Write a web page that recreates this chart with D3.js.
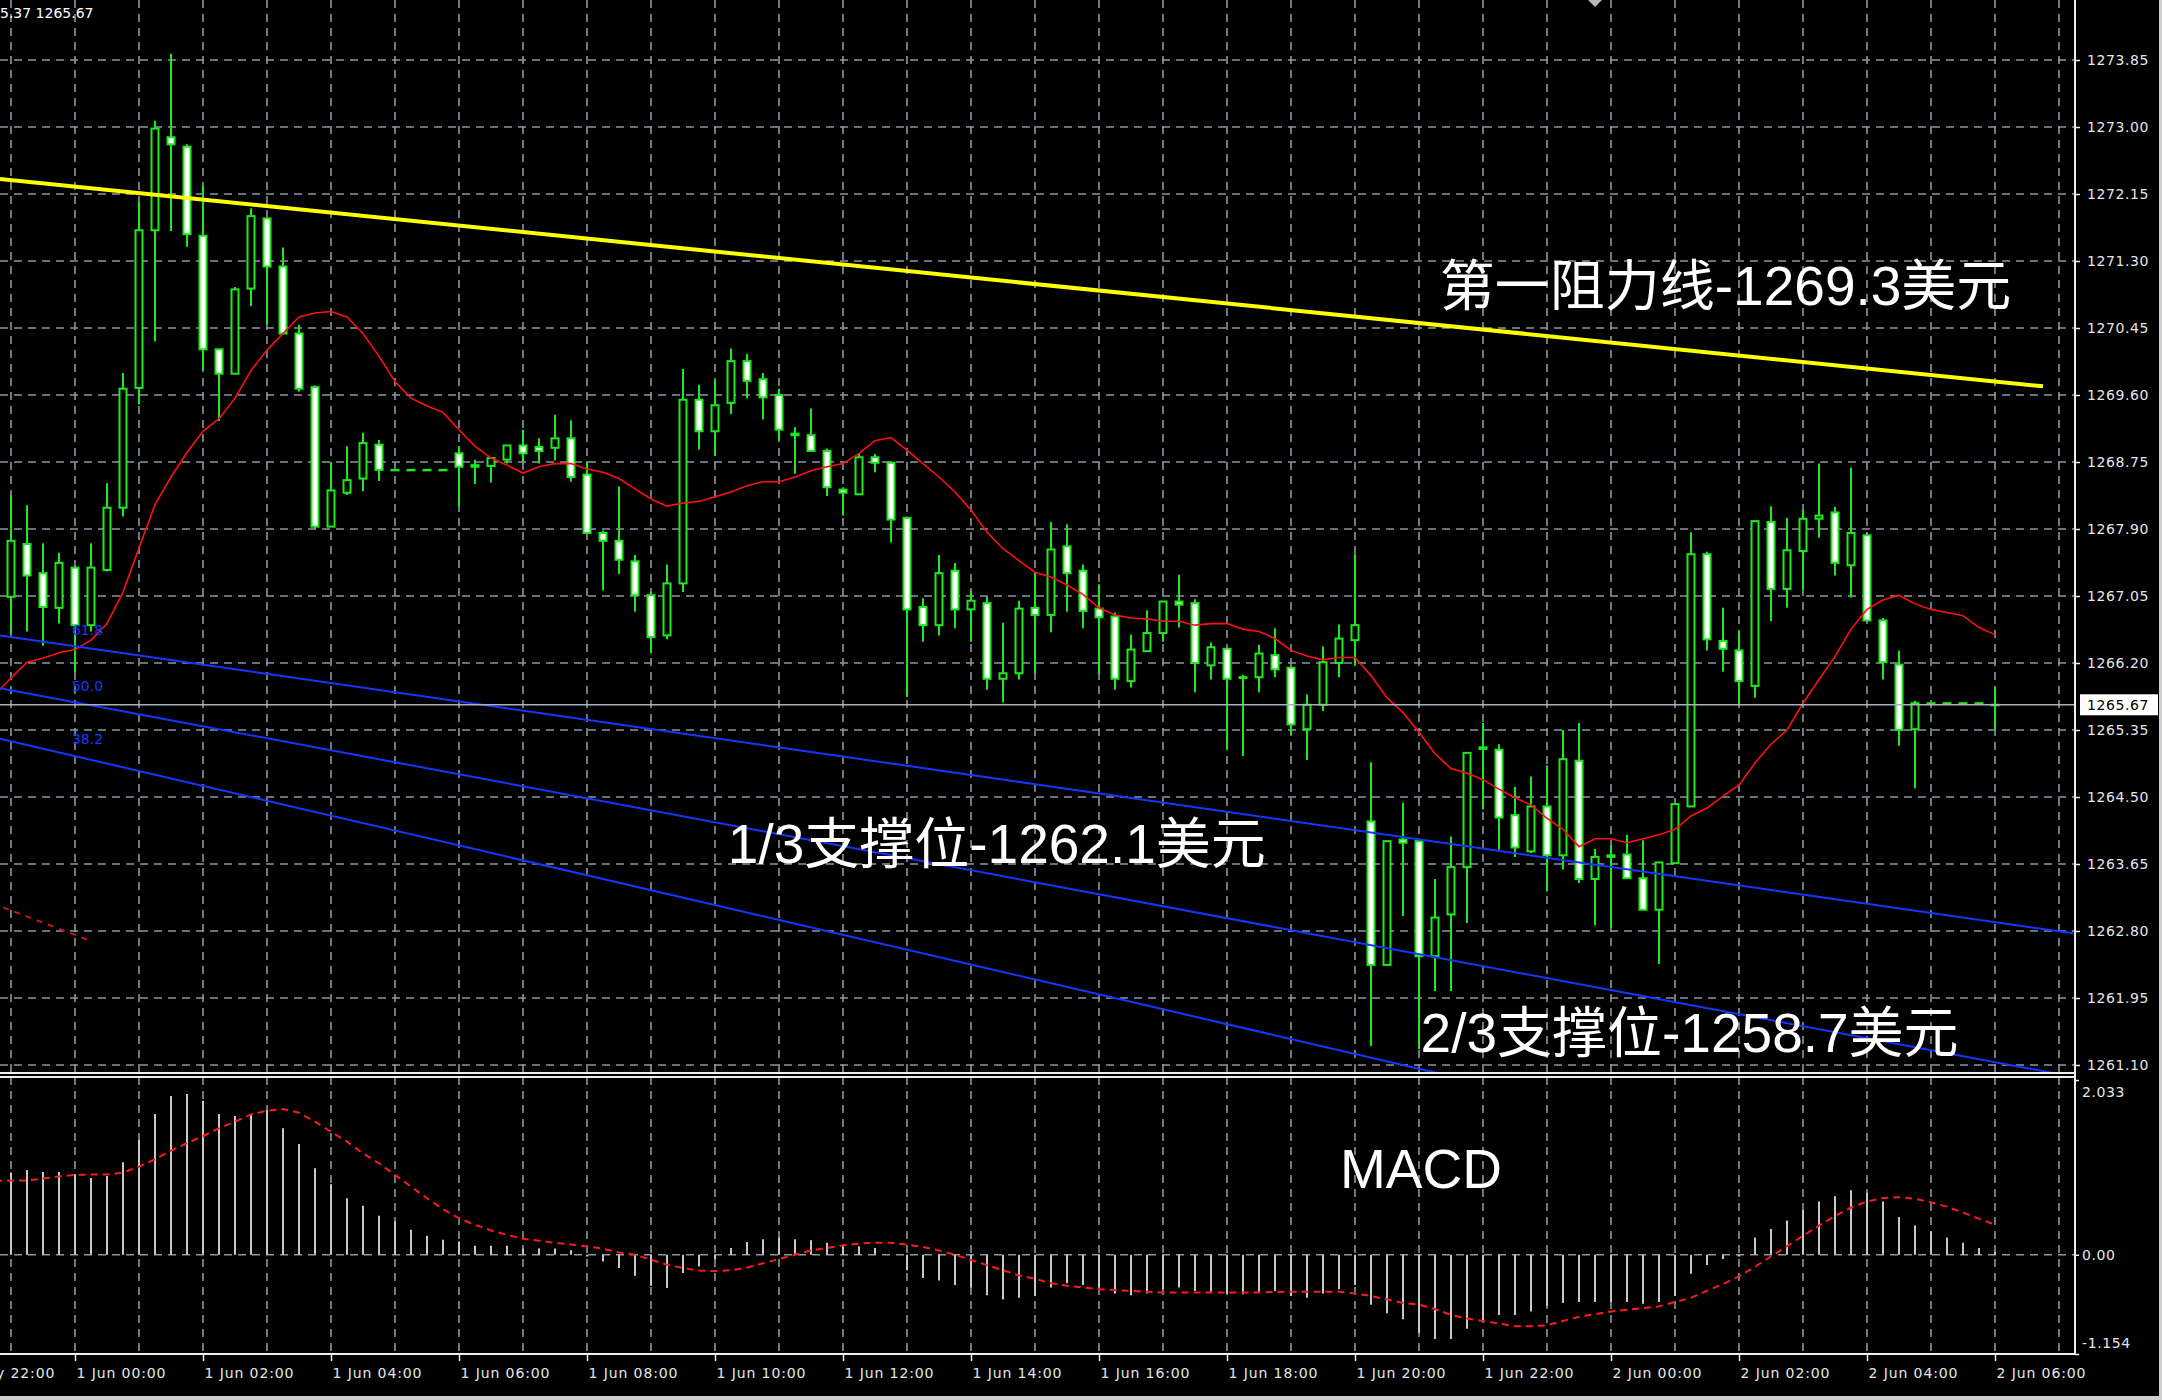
<!DOCTYPE html>
<html><head><meta charset="utf-8">
<script src="https://cdn.jsdelivr.net/npm/d3@7"></script>
<style>
html,body{margin:0;padding:0;background:#000;overflow:hidden}
svg{display:block}
</style></head><body>
<svg id="c" width="2162" height="1400"></svg>
<script>
// ---------- DATA (M15 bars, bar 0 = 1 Jun 00:00) ----------
const barIndex = d3.range(-5, 121);
const opens = [
1267.05,1267.04,1267.71,1267.34,1266.90,1267.41,1266.68,1267.38,1268.17,1269.69,
1271.69,1272.87,1272.75,1271.62,1270.18,1269.87,1270.95,1271.84,1271.23,1270.38,
1269.70,1267.93,1268.36,1268.54,1268.97,1268.65,1268.65,1268.65,1268.65,1268.86,
1268.71,1268.70,1268.78,1268.96,1268.94,1268.93,1269.05,1268.59,1267.85,1267.75,
1267.49,1267.06,1266.55,1267.21,1269.54,1269.14,1269.50,1270.03,1269.80,1269.60,
1269.11,1269.09,1268.89,1268.40,1268.34,1268.81,1268.74,1268.04,1266.91,1266.68,
1267.37,1266.88,1266.96,1266.00,1266.07,1266.90,1266.81,1267.68,1267.37,1266.89,
1266.79,1265.97,1266.35,1266.58,1266.98,1266.96,1266.17,1266.38,1266.02,1266.02,
1266.30,1266.14,1265.36,1265.67,1266.20,1266.49,1264.19,1262.37,1263.96,1263.94,
1262.48,1263.01,1263.61,1265.13,1265.10,1264.27,1263.81,1264.38,1263.76,1264.96,
1263.46,1263.76,1263.77,1263.47,1263.07,1263.66,1264.38,1267.58,1266.48,1266.36,
1265.91,1267.99,1267.14,1267.62,1268.03,1268.11,1267.44,1267.82,1266.74,1266.18,
1265.36,1265.69,1265.69,1265.69,1265.69,1265.67];
const highs = [
1268.28,1268.33,1268.20,1267.72,1267.60,1267.44,1267.72,1268.48,1269.88,1272.05,
1273.08,1273.93,1272.78,1272.25,1270.18,1270.97,1271.97,1271.84,1271.47,1270.49,
1269.72,1268.75,1268.95,1269.12,1269.03,1268.65,1268.65,1268.65,1268.65,1268.95,
1268.78,1268.80,1268.96,1269.16,1269.05,1269.35,1269.28,1268.76,1267.88,1268.44,
1267.57,1267.10,1267.45,1269.93,1269.73,1269.79,1270.19,1270.12,1269.88,1269.68,
1269.19,1269.43,1268.92,1268.43,1268.85,1268.85,1268.76,1268.06,1267.02,1267.57,
1267.47,1267.12,1267.04,1266.71,1266.99,1267.35,1267.99,1267.96,1267.45,1267.20,
1266.84,1266.56,1266.87,1266.98,1267.32,1267.01,1266.46,1266.39,1266.05,1266.43,
1266.64,1266.16,1265.80,1266.41,1266.69,1267.58,1264.94,1263.94,1264.43,1263.94,
1263.46,1264.00,1265.06,1265.44,1265.17,1264.63,1264.76,1264.90,1265.35,1265.44,
1263.84,1263.89,1264.02,1263.95,1263.67,1264.41,1267.86,1267.61,1266.90,1266.61,
1268.00,1268.19,1268.04,1268.14,1268.73,1268.18,1268.68,1267.85,1266.77,1266.36,
1265.72,1265.69,1265.69,1265.69,1265.69,1265.90];
const lows = [
1266.57,1266.57,1266.60,1266.42,1266.70,1266.08,1266.60,1267.36,1268.06,1269.48,
1270.28,1271.68,1271.48,1269.91,1269.27,1269.87,1270.73,1270.49,1270.37,1269.64,
1267.90,1267.93,1268.33,1268.38,1268.51,1268.65,1268.65,1268.65,1268.65,1268.18,
1268.47,1268.49,1268.73,1268.75,1268.73,1268.77,1268.50,1267.84,1267.12,1267.33,
1266.85,1266.32,1266.50,1267.10,1268.91,1268.83,1269.36,1269.56,1269.29,1269.02,
1268.60,1268.89,1268.32,1268.07,1268.33,1268.62,1267.73,1265.77,1266.47,1266.55,
1266.64,1266.47,1265.86,1265.70,1265.99,1266.07,1266.59,1266.85,1266.64,1266.06,
1265.86,1265.89,1266.35,1266.47,1266.65,1265.83,1265.99,1265.10,1265.02,1265.83,
1266.02,1265.30,1264.97,1265.59,1266.02,1266.17,1261.34,1262.37,1262.99,1261.30,
1262.04,1262.04,1262.90,1264.34,1263.83,1263.74,1263.79,1263.30,1263.58,1263.41,
1262.87,1262.84,1263.47,1263.07,1262.38,1263.66,1264.38,1266.36,1266.09,1265.67,
1265.76,1266.73,1266.90,1267.13,1267.79,1267.31,1267.03,1266.73,1265.99,1265.15,
1264.61,1265.69,1265.69,1265.69,1265.69,1265.36];
const closes = [
1267.70,1267.75,1267.31,1266.91,1267.47,1266.68,1267.41,1268.17,1269.68,1271.69,
1272.98,1272.78,1271.64,1270.18,1269.87,1270.94,1271.87,1271.23,1270.38,1269.68,
1267.93,1268.39,1268.52,1268.99,1268.65,1268.65,1268.65,1268.65,1268.65,1268.69,
1268.69,1268.80,1268.96,1268.86,1268.89,1269.05,1268.56,1267.85,1267.75,1267.51,
1267.06,1266.53,1267.21,1269.54,1269.14,1269.47,1270.03,1269.78,1269.57,1269.16,
1269.09,1268.89,1268.43,1268.36,1268.81,1268.74,1268.02,1266.88,1266.68,1267.34,
1266.88,1266.99,1266.00,1266.07,1266.89,1266.81,1267.64,1267.34,1266.86,1266.78,
1266.00,1266.37,1266.58,1266.98,1266.94,1266.20,1266.40,1266.00,1266.01,1266.32,
1266.12,1265.42,1265.67,1266.21,1266.51,1266.68,1262.37,1263.94,1263.92,1262.48,
1262.97,1263.61,1265.06,1265.11,1264.24,1263.86,1264.38,1263.76,1264.98,1263.46,
1263.74,1263.74,1263.47,1263.07,1263.67,1264.41,1267.58,1266.50,1266.38,1265.97,
1268.00,1267.14,1267.63,1268.03,1268.07,1267.47,1267.85,1266.74,1266.21,1265.35,
1265.69,1265.69,1265.69,1265.69,1265.69,1265.67];
const maValues = [
1265.80,1266.01,1266.21,1266.26,1266.33,1266.37,1266.49,1266.70,1267.10,1267.66,
1268.21,1268.56,1268.87,1269.14,1269.30,1269.56,1269.91,1270.17,1270.38,1270.59,
1270.64,1270.66,1270.59,1270.38,1270.09,1269.77,1269.56,1269.46,1269.38,1269.16,
1268.95,1268.80,1268.71,1268.61,1268.69,1268.73,1268.73,1268.66,1268.62,1268.54,
1268.41,1268.28,1268.19,1268.23,1268.25,1268.31,1268.37,1268.45,1268.50,1268.50,
1268.56,1268.64,1268.69,1268.73,1268.86,1269.02,1269.06,1268.90,1268.73,1268.56,
1268.37,1268.14,1267.86,1267.65,1267.50,1267.35,1267.29,1267.19,1267.07,1266.90,
1266.81,1266.77,1266.76,1266.73,1266.73,1266.68,1266.70,1266.70,1266.63,1266.60,
1266.51,1266.36,1266.29,1266.24,1266.27,1266.27,1266.04,1265.76,1265.57,1265.32,
1265.05,1264.86,1264.80,1264.72,1264.60,1264.49,1264.40,1264.23,1264.09,1263.87,
1263.97,1263.97,1263.92,1263.97,1264.02,1264.09,1264.26,1264.36,1264.51,1264.65,
1264.93,1265.17,1265.35,1265.69,1265.99,1266.28,1266.63,1266.88,1267.00,1267.06,
1266.95,1266.88,1266.84,1266.80,1266.65,1266.56];
const macdHist = [
0.95,0.956,0.987,0.964,0.964,0.937,0.894,0.917,1.076,1.336,
1.637,1.846,1.870,1.793,1.637,1.614,1.637,1.684,1.471,1.289,
1.006,0.821,0.658,0.569,0.453,0.387,0.290,0.221,0.174,0.155,
0.105,0.105,0.105,0.074,0.074,0.074,0.054,-0.02,-0.077,-0.155,
-0.244,-0.360,-0.387,-0.213,-0.136,-0.05,0.08,0.15,0.18,0.20,
0.18,0.17,0.14,0.10,0.10,0.08,0.0,-0.18,-0.27,-0.30,
-0.35,-0.38,-0.47,-0.52,-0.50,-0.48,-0.38,-0.33,-0.35,-0.38,
-0.45,-0.47,-0.45,-0.40,-0.38,-0.42,-0.43,-0.45,-0.46,-0.43,
-0.42,-0.48,-0.50,-0.45,-0.40,-0.35,-0.58,-0.68,-0.75,-0.91,
-0.98,-0.98,-0.86,-0.78,-0.70,-0.70,-0.66,-0.60,-0.56,-0.55,
-0.55,-0.55,-0.55,-0.57,-0.55,-0.48,-0.22,-0.12,-0.05,-0.02,
0.20,0.30,0.40,0.52,0.62,0.68,0.75,0.72,0.62,0.44,
0.34,0.27,0.20,0.14,0.08,0.03];
const macdSignal = [
0.86,0.863,0.863,0.887,0.910,0.929,0.933,0.933,0.956,1.026,
1.111,1.212,1.297,1.382,1.471,1.548,1.633,1.676,1.695,1.653,
1.548,1.432,1.316,1.180,1.064,0.929,0.793,0.658,0.530,0.426,
0.348,0.283,0.232,0.186,0.163,0.139,0.120,0.097,0.070,0.027,
0.0,-0.058,-0.116,-0.155,-0.182,-0.19,-0.18,-0.15,-0.10,-0.05,
0.0,0.05,0.08,0.11,0.13,0.14,0.14,0.12,0.09,0.05,
0.0,-0.06,-0.12,-0.18,-0.24,-0.28,-0.33,-0.36,-0.38,-0.40,
-0.41,-0.42,-0.43,-0.44,-0.44,-0.44,-0.44,-0.44,-0.44,-0.44,
-0.43,-0.43,-0.43,-0.43,-0.43,-0.45,-0.48,-0.52,-0.56,-0.58,
-0.63,-0.70,-0.74,-0.77,-0.80,-0.83,-0.83,-0.82,-0.77,-0.72,
-0.69,-0.66,-0.64,-0.62,-0.60,-0.55,-0.50,-0.42,-0.34,-0.25,
-0.14,-0.02,0.10,0.22,0.34,0.45,0.55,0.62,0.66,0.67,
0.65,0.61,0.56,0.49,0.42,0.35];

const priceTicks = [1273.85,1273.00,1272.15,1271.30,1270.45,1269.60,1268.75,1267.90,1267.05,1266.20,1265.35,1264.50,1263.65,1262.80,1261.95,1261.10];
const macdTicks = [2.033, 0, -1.154];
const macdTickLabels = ["2.033","0.00","-1.154"];
const timeTickBars = d3.range(-8, 121, 8);
const timeLabels = ["31 May 22:00","1 Jun 00:00","1 Jun 02:00","1 Jun 04:00","1 Jun 06:00","1 Jun 08:00","1 Jun 10:00","1 Jun 12:00","1 Jun 14:00","1 Jun 16:00","1 Jun 18:00","1 Jun 20:00","1 Jun 22:00","2 Jun 00:00","2 Jun 02:00","2 Jun 04:00","2 Jun 06:00"];
const gridBars = d3.range(-4, 125, 4);
const lastPrice = 1265.67;
const headerText = "5.37 1265.67";

// drawn objects (bar index, price)
const trendBars = [-4.69, 123];
const trendPrices = [1272.34, 1269.71];
const fanLevels = ["61.8","50.0","38.2"];
const fanBars = [-4.69, 124.9];
const fanStartPrices = [1266.55, 1265.88, 1265.24];
const fanEndPrices = [1262.77, 1260.95, 1259.12];
const fanLabelBar = -0.19;
const oldLineBars = [-4.5, 0.9];
const oldLinePrices = [1263.10, 1262.68];

const annotations = ["第一阻力线-1269.3美元","1/3支撑位-1262.1美元","2/3支撑位-1258.7美元"];
const annotationBars = [85.3, 40.8, 84.1];
const annotationPrices = [1270.74, 1263.66, 1261.27];
const macdTitle = "MACD";

// ---------- SCALES ----------
const W = 2162, H = 1400;
const plotRight = 2075, mainBottom = 1073, macdTop = 1077, macdBottom = 1354;
const x = d3.scaleLinear().domain([0, 120]).range([75, 1995]);
const y = d3.scaleLinear().domain([1261.10, 1273.85]).range([1065, 60]);
const ym = d3.scaleLinear().domain([-1.154, 2.033]).range([1354, 1080]);

const GRID = '#8a97a4', GREEN = '#1ee81e', AXISC = '#e6e6e6';
const FONT = '"DejaVu Sans", sans-serif';

const svg = d3.select('#c');
svg.append('rect').attr('width', W).attr('height', H).attr('fill', '#000');
const defs = svg.append('defs');
defs.append('clipPath').attr('id','mainClip').append('rect').attr('x',0).attr('y',0).attr('width',plotRight).attr('height',mainBottom-1);
defs.append('clipPath').attr('id','macdClip').append('rect').attr('x',0).attr('y',macdTop+1).attr('width',plotRight).attr('height',macdBottom-macdTop-1);

const bars = barIndex.map((k,i)=>({k, o:opens[i], h:highs[i], l:lows[i], c:closes[i], ma:maValues[i], hist:macdHist[i], sig:macdSignal[i]}));

// ---------- MAIN PANEL ----------
const gMain = svg.append('g').attr('clip-path','url(#mainClip)');
gMain.append('g').selectAll('line').data(gridBars).join('line')
  .attr('x1',d=>x(d)).attr('x2',d=>x(d)).attr('y1',0).attr('y2',mainBottom)
  .attr('stroke',GRID).attr('stroke-width',1.6).attr('stroke-dasharray','8,6');
gMain.append('g').selectAll('line').data(priceTicks).join('line')
  .attr('x1',0).attr('x2',plotRight).attr('y1',d=>y(d)).attr('y2',d=>y(d))
  .attr('stroke',GRID).attr('stroke-width',1.6).attr('stroke-dasharray','8,6');

// candles
const gC = gMain.append('g');
gC.selectAll('line').data(bars).join('line')
  .attr('x1',d=>x(d.k)).attr('x2',d=>x(d.k)).attr('y1',d=>y(d.h)).attr('y2',d=>y(d.l))
  .attr('stroke',GREEN).attr('stroke-width',2);
gC.selectAll('rect').data(bars).join('rect')
  .attr('x',d=>x(d.k)-3.5).attr('width',7)
  .attr('y',d=>y(Math.max(d.o,d.c)))
  .attr('height',d=>Math.max(0.5, Math.abs(y(d.o)-y(d.c))))
  .attr('fill',d=>d.c>=d.o?'#000':'#fff')
  .attr('stroke',GREEN).attr('stroke-width',2);

// moving average
gMain.append('path').datum(bars)
  .attr('d', d3.line().x(d=>x(d.k)).y(d=>y(d.ma)))
  .attr('fill','none').attr('stroke','#ff1010').attr('stroke-width',1.6);

// fan lines
fanLevels.forEach((lv,i)=>{
  gMain.append('line')
    .attr('x1',x(fanBars[0])).attr('y1',y(fanStartPrices[i]))
    .attr('x2',x(fanBars[1])).attr('y2',y(fanEndPrices[i]))
    .attr('stroke','#1437ff').attr('stroke-width',2);
  const t = (fanLabelBar-fanBars[0])/(fanBars[1]-fanBars[0]);
  const p = fanStartPrices[i] + t*(fanEndPrices[i]-fanStartPrices[i]);
  gMain.append('text').attr('x',x(fanLabelBar)).attr('y',y(p)-11)
    .attr('fill','#1437ff').attr('font-family',FONT).attr('font-size',14).text(lv);
});

// old dashed red line
gMain.append('line')
  .attr('x1',x(oldLineBars[0])).attr('y1',y(oldLinePrices[0]))
  .attr('x2',x(oldLineBars[1])).attr('y2',y(oldLinePrices[1]))
  .attr('stroke','#c81414').attr('stroke-width',2).attr('stroke-dasharray','6,6');

// trend line
gMain.append('line')
  .attr('x1',x(trendBars[0])).attr('y1',y(trendPrices[0]))
  .attr('x2',x(trendBars[1])).attr('y2',y(trendPrices[1]))
  .attr('stroke','#ffff00').attr('stroke-width',4);

// last price line
gMain.append('line').attr('x1',0).attr('x2',plotRight).attr('y1',y(lastPrice)).attr('y2',y(lastPrice))
  .attr('stroke','#aab2ba').attr('stroke-width',1.6);

// ---------- MACD PANEL ----------
const gM = svg.append('g').attr('clip-path','url(#macdClip)');
gM.append('g').selectAll('line').data(gridBars).join('line')
  .attr('x1',d=>x(d)).attr('x2',d=>x(d)).attr('y1',macdTop).attr('y2',macdBottom)
  .attr('stroke',GRID).attr('stroke-width',1.6).attr('stroke-dasharray','8,6');
gM.append('line').attr('x1',0).attr('x2',plotRight).attr('y1',ym(0)).attr('y2',ym(0))
  .attr('stroke',GRID).attr('stroke-width',1.6).attr('stroke-dasharray','8,6');
gM.append('g').selectAll('line').data(bars).join('line')
  .attr('x1',d=>x(d.k)).attr('x2',d=>x(d.k)).attr('y1',ym(0)).attr('y2',d=>ym(d.hist))
  .attr('stroke','#c8c8c8').attr('stroke-width',2);
gM.append('path').datum(bars)
  .attr('d', d3.line().x(d=>x(d.k)).y(d=>ym(d.sig)))
  .attr('fill','none').attr('stroke','#ff1a1a').attr('stroke-width',2).attr('stroke-dasharray','7,5');

// ---------- FRAMES ----------
const frame = svg.append('g').attr('stroke','#eeeeee').attr('stroke-width',2);
frame.append('line').attr('x1',plotRight).attr('x2',plotRight).attr('y1',0).attr('y2',macdBottom);
frame.append('line').attr('x1',0).attr('x2',plotRight).attr('y1',mainBottom).attr('y2',mainBottom);
frame.append('line').attr('x1',0).attr('x2',plotRight).attr('y1',macdTop).attr('y2',macdTop);
frame.append('line').attr('x1',0).attr('x2',plotRight).attr('y1',macdBottom).attr('y2',macdBottom);

// ---------- AXES ----------
function styleAxis(g){
  g.select('.domain').remove();
  g.selectAll('line').attr('stroke','#eeeeee').attr('stroke-width',1.5);
  g.selectAll('text').attr('fill',AXISC).attr('font-family',FONT).attr('font-size',14).attr('letter-spacing',0.6);
}
svg.append('g').attr('transform',`translate(${plotRight},0)`)
  .call(d3.axisRight(y).tickValues(priceTicks).tickFormat(d3.format('.2f')).tickSize(5).tickPadding(7))
  .call(styleAxis);
const mAx = svg.append('g').attr('transform',`translate(${plotRight},0)`)
  .call(d3.axisRight(ym).tickValues(macdTicks).tickFormat((d,i)=>macdTickLabels[i]).tickSize(4).tickPadding(3))
  .call(styleAxis);
mAx.selectAll('.tick text').attr('dy',(d,i)=> i===0 ? '1.2em' : (i===2 ? '-0.5em' : '0.32em'));
const tAx = svg.append('g').attr('transform',`translate(0,${macdBottom})`)
  .call(d3.axisBottom(x).tickValues(timeTickBars).tickFormat((d,i)=>timeLabels[i]).tickSize(7).tickPadding(7))
  .call(styleAxis);
tAx.selectAll('.tick text').attr('text-anchor','start').attr('x',1).attr('letter-spacing',0.9);

// last price label box
svg.append('rect').attr('x',2080).attr('y',y(lastPrice)-10.5).attr('width',78).attr('height',21).attr('fill','#fff');
svg.append('text').attr('x',2087).attr('y',y(lastPrice)).attr('dy','0.36em')
  .attr('fill','#000').attr('font-family',FONT).attr('font-size',14).attr('letter-spacing',0.6).text(d3.format('.2f')(lastPrice));

// header text and shift marker
svg.append('text').attr('x',0).attr('y',18).attr('fill','#fff').attr('font-family',FONT).attr('font-size',14).text(headerText);
svg.append('path').attr('d','M1588,0 L1602,0 L1595,7 Z').attr('fill','#b8b8b8');

// ---------- ANNOTATIONS ----------
const annFont = '"Liberation Sans", "Noto Sans CJK SC", sans-serif';
annotations.forEach((s,i)=>{
  svg.append('text').attr('x',x(annotationBars[i])).attr('y',y(annotationPrices[i]))
    .attr('fill','#fff').attr('font-family',annFont).attr('font-size',55).text(s);
});
svg.append('text').attr('x',1340).attr('y',ym(0.78))
  .attr('fill','#fff').attr('font-family',annFont).attr('font-size',55).text(macdTitle);

// window edges
svg.append('rect').attr('x',0).attr('y',1396).attr('width',W).attr('height',4).attr('fill','#cfcfcf');
svg.append('rect').attr('x',2159).attr('y',0).attr('width',3).attr('height',H).attr('fill','#cfcfcf');
</script>
</body></html>
